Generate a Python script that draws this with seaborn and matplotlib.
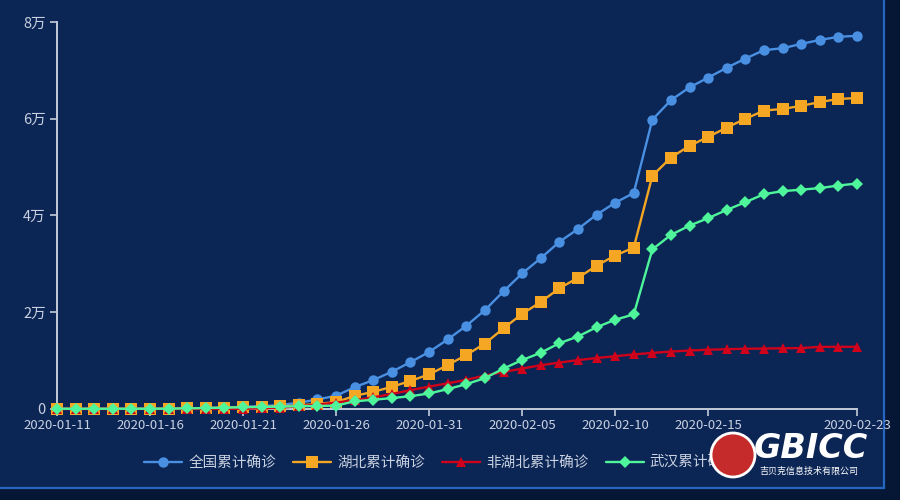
import matplotlib
matplotlib.use("Agg")
import matplotlib.pyplot as plt
import matplotlib.patches as mpatches
import seaborn as sns
import pandas as pd
import numpy as np

dates = pd.date_range("2020-01-11", "2020-02-23").strftime("%Y-%m-%d").tolist()

national = [41, 41, 41, 41, 41, 45, 62, 121, 198, 291, 440, 571, 830, 1287, 1975,
            2744, 4515, 5974, 7711, 9692, 11791, 14380, 17205, 20438, 24324, 28018,
            31161, 34546, 37198, 40171, 42638, 44653, 59804, 63851, 66492, 68500,
            70548, 72436, 74185, 74576, 75465, 76288, 76936, 77150]
hubei = [41, 41, 41, 41, 41, 45, 62, 121, 198, 270, 375, 444, 549, 729, 1052,
         1423, 2714, 3554, 4586, 5806, 7153, 9074, 11177, 13522, 16678, 19665,
         22112, 24953, 27100, 29631, 31728, 33366, 48206, 51986, 54406, 56249,
         58182, 59989, 61682, 62031, 62662, 63454, 64084, 64287]
non_hubei = [0, 0, 0, 0, 0, 0, 0, 0, 0, 21, 65, 127, 281, 558, 923,
             1321, 1801, 2420, 3125, 3886, 4638, 5306, 6028, 6916, 7646, 8353,
             9049, 9593, 10098, 10540, 10910, 11287, 11598, 11865, 12086, 12251,
             12366, 12447, 12503, 12545, 12600, 12834, 12852, 12863]
wuhan = [41, 41, 41, 41, 41, 45, 62, 121, 198, 258, 363, 425, 495, 572, 618,
         698, 1590, 1905, 2261, 2639, 3215, 4109, 5142, 6384, 8351, 10117,
         11618, 13603, 14982, 16902, 18454, 19558, 32994, 35991, 37914, 39462,
         41152, 42752, 44412, 45027, 45346, 45660, 46201, 46607]

series_names = ["全国累计确诊", "湖北累计确诊", "非湖北累计确诊", "武汉累计确诊"]
tick_dates = ["2020-01-11", "2020-01-16", "2020-01-21", "2020-01-26", "2020-01-31",
              "2020-02-05", "2020-02-10", "2020-02-15", "2020-02-23"]
y_ticks = [0, 20000, 40000, 60000, 80000]
y_labels = ["0", "2万", "4万", "6万", "8万"]

sns.set_style("dark")
plt.rcParams['font.family'] = ['Noto Sans CJK SC', 'DejaVu Sans']

colors = ["#4a90e2", "#f5a623", "#d0021b", "#4ff59a"]
markers = ["o", "s", "^", "D"]
msizes = [7.5, 8.5, 7, 6]
txt = "#c9d1e0"
bg = "#0b2555"

fig = plt.figure(figsize=(9, 5), dpi=100, facecolor="#061736")
fig.patches.append(mpatches.Rectangle((-10, 12), 894, 500, transform=None,
                                      facecolor=bg, edgecolor="#2466c0", lw=1.6,
                                      figure=fig, zorder=-10))
ax = fig.add_axes([57/900, 1-409/500, 800/900, 387/500])
ax.set_facecolor(bg)
ax.patch.set_alpha(0)

df = pd.DataFrame({"idx": np.arange(len(dates)), "date": dates,
                   series_names[0]: national, series_names[1]: hubei,
                   series_names[2]: non_hubei, series_names[3]: wuhan})

zorders = [3, 4, 5, 6]
for name, c, m, ms, z in zip(series_names, colors, markers, msizes, zorders):
    sns.lineplot(data=df, x="idx", y=name, ax=ax, color=c, marker=m, markersize=ms,
                 markeredgewidth=0, linewidth=1.7, label=name, clip_on=False, zorder=z)

ax.set_xlim(0, len(dates) - 1)
ax.set_ylim(0, 80000)
ax.set_xticks([dates.index(d) for d in tick_dates])
ax.set_xticklabels(tick_dates)
ax.set_yticks(y_ticks)
ax.set_yticklabels(y_labels)
ax.set_xlabel("")
ax.set_ylabel("")
ax.grid(False)
for s in ["top", "right"]:
    ax.spines[s].set_visible(False)
for s in ["left", "bottom"]:
    ax.spines[s].set_visible(True)
    ax.spines[s].set_color("#c4cbd8")
    ax.spines[s].set_linewidth(1.4)
ax.tick_params(axis="both", colors="#c4cbd8", labelcolor=txt, length=5, width=1.2,
               direction="out", bottom=True, left=True)
ax.tick_params(axis="x", labelsize=9.5, pad=2)
ax.tick_params(axis="y", labelsize=10.5, pad=3)

ax.get_legend().remove()
handles, labels = ax.get_legend_handles_labels()
leg = fig.legend(handles, labels, loc="center", bbox_to_anchor=(0.49, 0.074), ncol=4,
                 frameon=False, fontsize=10.5, handlelength=2.6, columnspacing=1.2,
                 handletextpad=0.4, labelcolor=txt)

# watermark logo
fig.patches.append(mpatches.Circle((733, 45), 22, transform=None, facecolor="#c62b2b",
                                   edgecolor="white", lw=2, figure=fig, zorder=10))
fig.text(754/900, 1-449/500, "GBICC", color="white", fontsize=24, fontweight="bold",
         fontstyle="italic", family="DejaVu Sans", va="center", ha="left", zorder=11)
fig.text(759/900, 1-471/500, "吉贝克信息技术有限公司", color="white", fontsize=6.5,
         va="center", ha="left", zorder=11)

fig.savefig("out.png", dpi=100, facecolor=fig.get_facecolor())
